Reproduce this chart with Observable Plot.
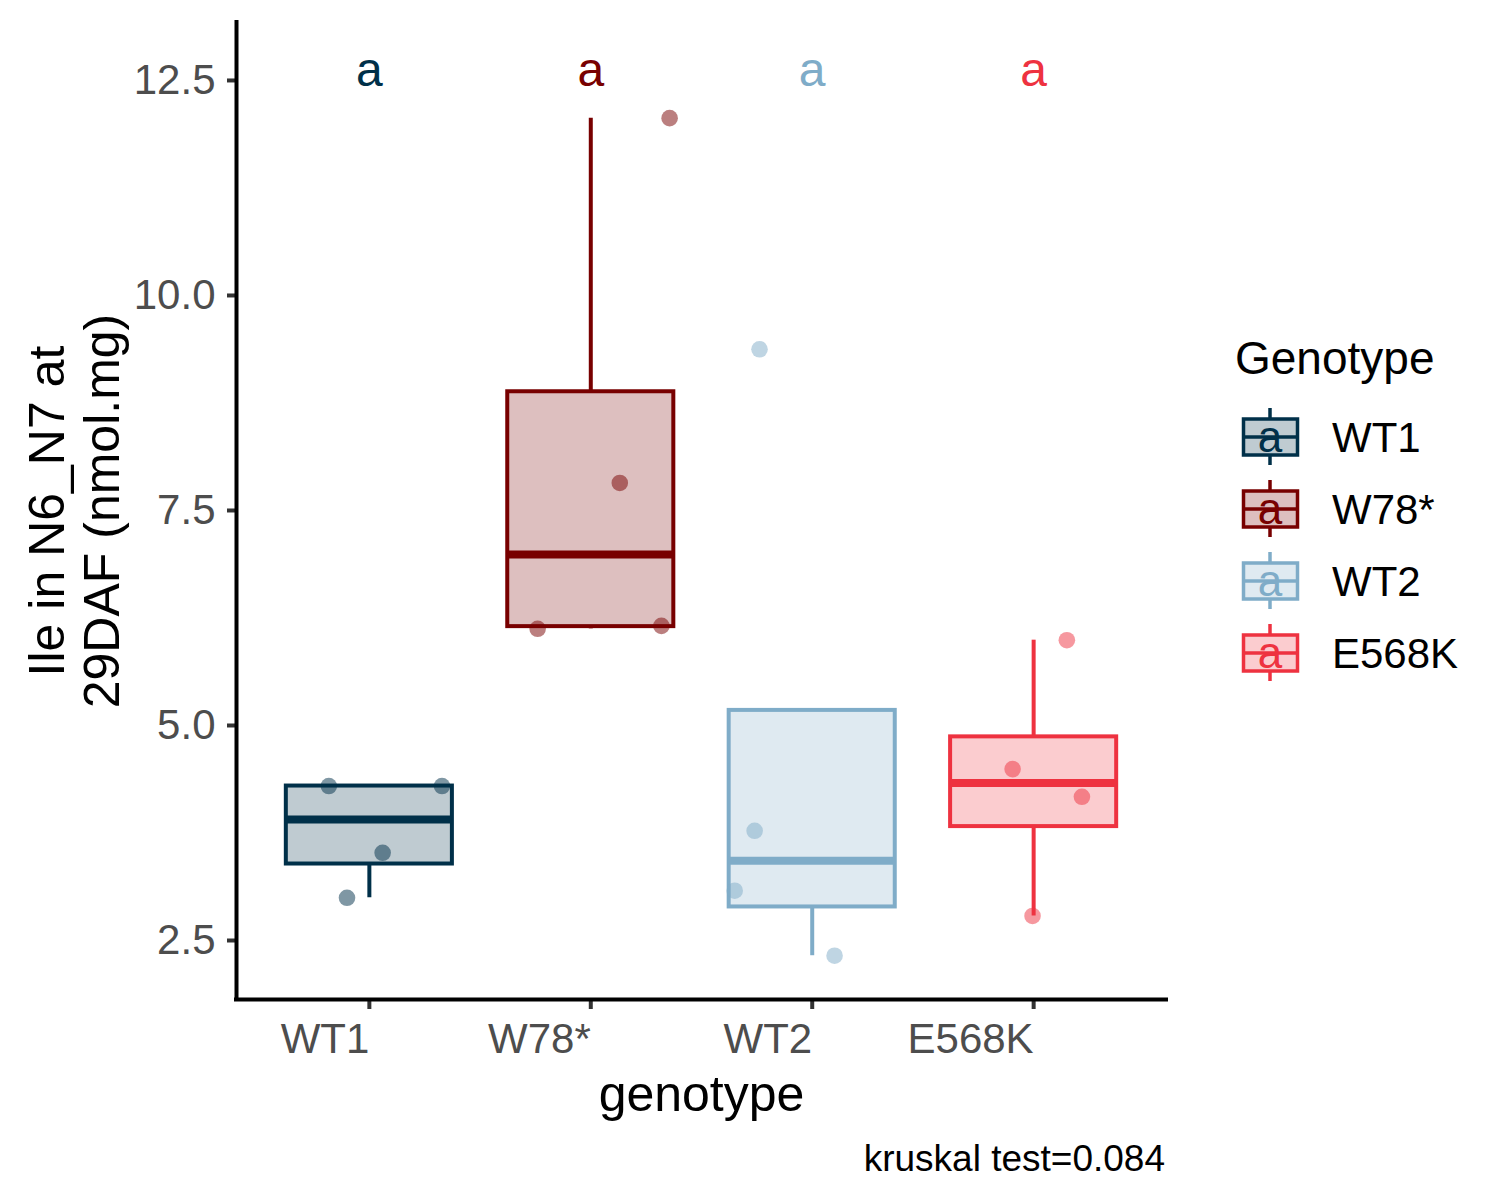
<!DOCTYPE html>
<html>
<head>
<meta charset="utf-8">
<script src="https://cdn.jsdelivr.net/npm/d3@7"></script>
<script src="https://cdn.jsdelivr.net/npm/@observablehq/plot@0.6"></script>
<style>
  body { margin: 0; background: #fff; font-family: "Liberation Sans", Arial, sans-serif; }
  #wrap { position: relative; width: 1500px; height: 1200px; background: #fff; }
  #caption { position: absolute; right: 335px; top: 1140px; font-size: 37px; line-height: 1; color: #000; white-space: nowrap; }
  #legend { position: absolute; left: 1220px; top: 320px; }
</style>
</head>
<body>
<div id="wrap"><div id="chart"></div><div id="caption"></div><div id="legend"></div></div>
<script>
// ---- data ----
const genotypes = ["WT1", "W78*", "WT2", "E568K"];
const colors = ["#003049", "#780000", "#7FACC8", "#EE3240"];
const letters = ["a", "a", "a", "a"];
const letterY = 12.61;

const wt1Values   = [4.296, 4.296, 3.520, 2.997];
const wt1Jitter   = [-0.183, 0.328, 0.060, -0.101];
const w78Values   = [12.062, 7.820, 6.124, 6.158];
const w78Jitter   = [0.356, 0.131, -0.240, 0.319];
const wt2Values   = [9.374, 3.776, 3.079, 2.323];
const wt2Jitter   = [-0.238, -0.260, -0.350, 0.101];
const e568kValues = [5.992, 4.493, 4.171, 2.785];
const e568kJitter = [0.150, -0.095, 0.218, -0.005];

const yTicks = [2.5, 5.0, 7.5, 10.0, 12.5];
const yDomain = [1.814, 13.174];
const xDomain = [0.4, 4.6];

const yTitle = "Ile in N6_N7 at\n29DAF (nmol.mg)";
const xTitle = "genotype";
const legendTitle = "Genotype";
const caption = "kruskal test=0.084";

// ---- build tables ----
const valueSets = [wt1Values, w78Values, wt2Values, e568kValues];
const jitterSets = [wt1Jitter, w78Jitter, wt2Jitter, e568kJitter];

const points = [];
genotypes.forEach((g, k) => {
  valueSets[k].forEach((v, j) => points.push({genotype: g, i: k + 1, value: v, jit: jitterSets[k][j]}));
});

const stats = genotypes.map((g, k) => {
  const v = valueSets[k].slice().sort(d3.ascending);
  const q1 = d3.quantile(v, 0.25), median = d3.quantile(v, 0.5), q3 = d3.quantile(v, 0.75);
  const iqr = q3 - q1;
  const inside = v.filter(x => x >= q1 - 1.5 * iqr && x <= q3 + 1.5 * iqr);
  return {genotype: g, i: k + 1, q1, median, q3,
          lo: Math.min(q1, d3.min(inside)), hi: Math.max(q3, d3.max(inside))};
});

const half = 0.375;
const font = "Liberation Sans, Arial, sans-serif";
const lw = 4;

const chart = Plot.plot({
  width: 1500,
  height: 1125,
  marginLeft: 236,
  marginRight: 334,
  marginTop: 22,
  marginBottom: 126,
  style: {fontFamily: font, background: "white", overflow: "visible"},
  x: {type: "linear", domain: xDomain},
  y: {domain: yDomain},
  color: {domain: genotypes, range: colors},
  marks: [
    Plot.ruleX(stats, {x: "i", y1: "q3", y2: "hi", stroke: "genotype", strokeWidth: lw}),
    Plot.ruleX(stats, {x: "i", y1: "q1", y2: "lo", stroke: "genotype", strokeWidth: lw}),
    Plot.rectY(stats, {x1: d => d.i - half, x2: d => d.i + half, y1: "q1", y2: "q3",
      fill: "genotype", fillOpacity: 0.25, stroke: "genotype", strokeWidth: lw}),
    Plot.ruleY(stats, {y: "median", x1: d => d.i - half, x2: d => d.i + half, stroke: "genotype", strokeWidth: 2 * lw}),
    Plot.dot(points, {x: d => d.i + d.jit, y: "value", r: 8.3, fill: "genotype", fillOpacity: 0.5}),
    Plot.text(genotypes, {x: (d, k) => k + 1, y: () => letterY, text: (d, k) => letters[k],
      fill: d => d, fontSize: 48, lineAnchor: "middle"}),
    Plot.axisY({ticks: yTicks, tickFormat: d3.format(".1f"), tickSize: 9, tickPadding: 12,
      fontSize: 42, fill: "#4D4D4D", stroke: "#333333", strokeWidth: lw, label: null}),
    Plot.axisX({ticks: [1, 2, 3, 4], tickFormat: d => genotypes[d - 1], tickSize: 10, tickPadding: 14,
      textAnchor: "end", fontSize: 42, fill: "#4D4D4D", stroke: "#333333", strokeWidth: lw, label: null}),
    Plot.ruleY([yDomain[0]], {stroke: "black", strokeWidth: lw, strokeLinecap: "square"}),
    Plot.ruleX([xDomain[0]], {stroke: "black", strokeWidth: lw, strokeLinecap: "square"}),
    Plot.text([yTitle], {frameAnchor: "left", rotate: -90, dx: -163, fontSize: 50, lineHeight: 1.1,
      fill: "black", textAnchor: "middle", lineAnchor: "middle"}),
    Plot.text([xTitle], {frameAnchor: "bottom", lineAnchor: "bottom", dy: 111, fontSize: 50, fill: "black"})
  ]
});
document.getElementById("chart").appendChild(chart);

document.getElementById("caption").textContent = caption;

// ---- legend ----
const lg = d3.select("#legend").append("svg")
  .attr("width", 280).attr("height", 380)
  .style("font-family", font);
lg.append("text").attr("x", 15).attr("y", 54).attr("font-size", 46).attr("fill", "black").text(legendTitle);
genotypes.forEach((g, k) => {
  const cy = 117 + 72 * k;
  const c = colors[k];
  const gk = lg.append("g");
  gk.append("line").attr("x1", 50).attr("x2", 50).attr("y1", cy - 29).attr("y2", cy - 18).attr("stroke", c).attr("stroke-width", 3.5);
  gk.append("line").attr("x1", 50).attr("x2", 50).attr("y1", cy + 18).attr("y2", cy + 28).attr("stroke", c).attr("stroke-width", 3.5);
  gk.append("rect").attr("x", 23.5).attr("y", cy - 18).attr("width", 54).attr("height", 36)
    .attr("fill", c).attr("fill-opacity", 0.25).attr("stroke", c).attr("stroke-width", 3.5);
  gk.append("line").attr("x1", 23.5).attr("x2", 77.5).attr("y1", cy).attr("y2", cy).attr("stroke", c).attr("stroke-width", 3.5);
  gk.append("text").attr("x", 50).attr("y", cy + 15).attr("text-anchor", "middle").attr("font-size", 44).attr("fill", c).text(letters[k]);
  gk.append("text").attr("x", 112).attr("y", cy + 15).attr("font-size", 42).attr("fill", "black").text(g);
});
</script>
</body>
</html>
